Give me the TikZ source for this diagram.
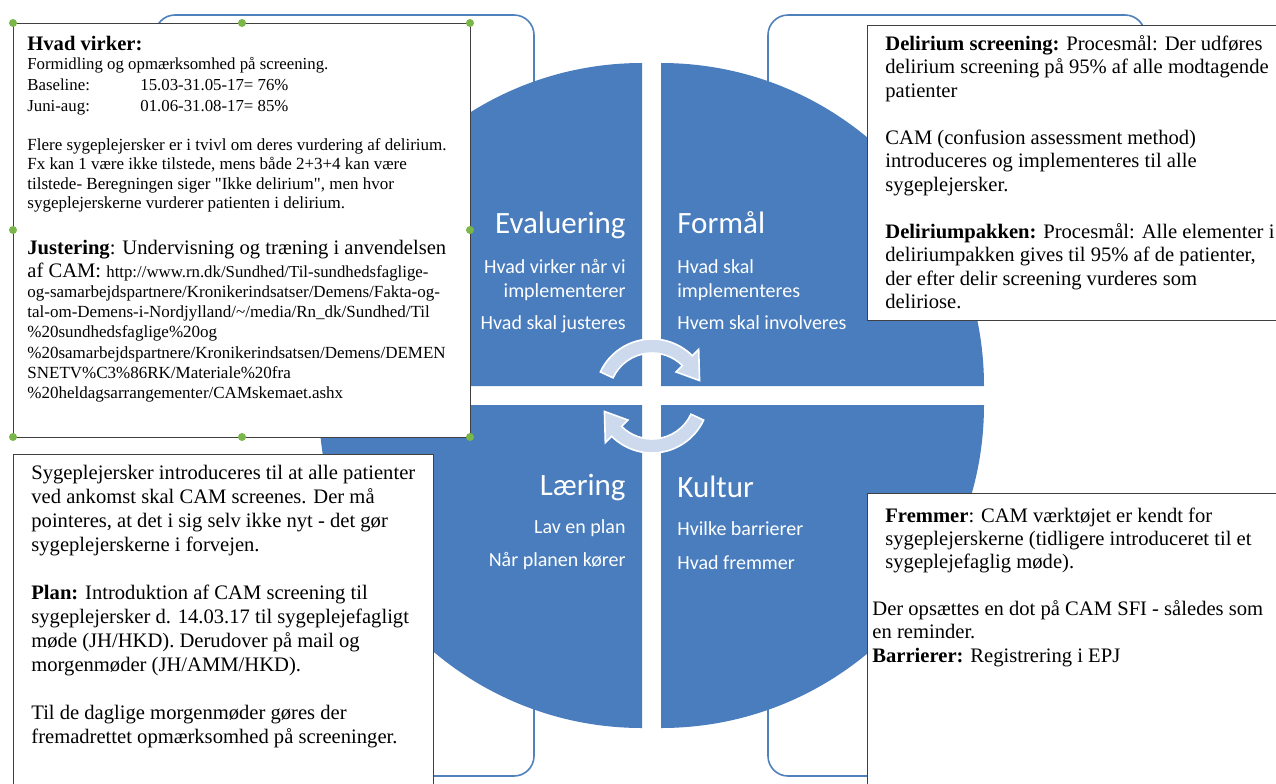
\documentclass[tikz,border=0pt]{standalone}
\usepackage{fontspec}
\setmainfont{Liberation Serif}
\newfontfamily\calfont{Carlito}
\usetikzlibrary{calc}
\definecolor{quad}{RGB}{73,125,189}
\definecolor{outl}{RGB}{79,129,189}
\definecolor{arr}{RGB}{205,218,238}
\definecolor{handle}{RGB}{122,182,72}
\tikzset{
  outer/.style={draw=outl, line width=0.8pt, fill=white, rounded corners=10pt},
  tbox/.style={draw=black!75, line width=0.5pt, fill=white},
  btxt/.style={anchor=north west, inner sep=0pt, align=left, font=\fontsize{10.3}{11.75}\selectfont},
  bline/.style={anchor=base west, inner sep=0pt, font=\fontsize{10.3}{11.75}\selectfont},
  stxt/.style={anchor=north west, inner sep=0pt, align=left},
  ttl/.style={inner sep=0pt, text=white, font=\calfont\fontsize{15.5}{18}\selectfont},
  sub/.style={inner sep=0pt, text=white, font=\calfont\fontsize{10}{12}\selectfont},
  cyc/.style={fill=arr, draw=white, line width=0.8pt},
  hdl/.style={circle, fill=handle, inner sep=0pt, minimum size=4pt},
}
\begin{document}
\begin{tikzpicture}[x=0.5pt,y=-0.5pt]
\clip (0,0) rectangle (1276,783);
\fill[white] (0,0) rectangle (1276,783);
% outer rounded frames
\draw[outer] (155,15) rectangle (534,300);
\draw[outer] (768,15) rectangle (1145,300);
\draw[outer] (155,500) rectangle (534,776);
\draw[outer] (768,500) rectangle (1145,776);
% quadrants
\fill[quad] (642,386) -- (319,386) arc[start angle=180,end angle=270,radius=323] -- cycle;
\fill[quad] (661,386) -- (661,63) arc[start angle=270,end angle=360,radius=323] -- cycle;
\fill[quad] (661,405) -- (984,405) arc[start angle=0,end angle=90,radius=323] -- cycle;
\fill[quad] (642,405) -- (642,728) arc[start angle=90,end angle=180,radius=323] -- cycle;
% cycle arrows
\coordinate (C) at (652,396);
\filldraw[cyc] ($(C)+(205:43)$) arc[start angle=205,end angle=315,radius=43] -- ($(C)+(315:34)$) -- ($(C)+(342:50)$) -- ($(C)+(315:66)$) -- ($(C)+(315:57)$) arc[start angle=315,end angle=205,radius=57] -- cycle;
\filldraw[cyc] ($(C)+(25:43)$) arc[start angle=25,end angle=135,radius=43] -- ($(C)+(135:34)$) -- ($(C)+(162:50)$) -- ($(C)+(135:66)$) -- ($(C)+(135:57)$) arc[start angle=135,end angle=25,radius=57] -- cycle;
% quadrant labels
\node[ttl, anchor=base east] (ev) at (626,233) {Evaluering};
\node[sub, anchor=base east] (ev1) at (626,273) {Hvad virker når vi};
\node[sub, anchor=base east] (ev2) at (626,297) {implementerer};
\node[sub, anchor=base east] (ev3) at (626,329) {Hvad skal justeres};
\node[ttl, anchor=base west] (fo) at (677,233) {Formål};
\node[sub, anchor=base west] (fo1) at (677,273) {Hvad skal};
\node[sub, anchor=base west] (fo2) at (677,297) {implementeres};
\node[sub, anchor=base west] (fo3) at (677,329) {Hvem skal involveres};
\node[ttl, anchor=base east] (la) at (626,495) {Læring};
\node[sub, anchor=base east] (la1) at (626,533) {Lav en plan};
\node[sub, anchor=base east] (la2) at (626,566) {Når planen kører};
\node[ttl, anchor=base west] (ku) at (677,497) {Kultur};
\node[sub, anchor=base west] (ku1) at (677,535) {Hvilke barrierer};
\node[sub, anchor=base west] (ku2) at (677,569) {Hvad fremmer};
% text boxes
\draw[tbox] (13,23) rectangle (470,437);
\draw[tbox] (867,25) rectangle (1290,320);
\draw[tbox] (13,454) rectangle (433,800);
\draw[tbox] (867,493) rectangle (1290,800);
% top-left box text
\node[bline] (tl1) at (27,50) {\textbf{Hvad virker:}};
\node[stxt, font=\fontsize{8.4}{10.5}\selectfont] (tl2) at (27,54.3) {\strut Formidling og opmærksomhed på screening.\\
\makebox[56.5pt][l]{Baseline:}15.03-31.05-17= 76\%\\
\makebox[56.5pt][l]{Juni-aug:}01.06-31.08-17= 85\%};
\node[stxt, font=\fontsize{8.5}{9.7}\selectfont] (tl3) at (27,136.4) {\strut Flere sygeplejersker er i tvivl om deres vurdering af delirium.\\
Fx kan 1 være ikke tilstede, mens både 2+3+4 kan være\\
tilstede- Beregningen siger \textquotedbl Ikke delirium\textquotedbl, men hvor\\
sygeplejerskerne vurderer patienten i delirium.};
\node[bline] (tl4) at (27,254) {\textbf{Justering}: Undervisning og træning i anvendelsen};
\node[bline] (tl5) at (27,277) {af CAM: {\fontsize{8.4}{10}\selectfont http://www.rn.dk/Sundhed/Til-sundhedsfaglige-}};
\node[stxt, font=\fontsize{8.5}{10.1}\selectfont] (tl6) at (27,282.9) {\strut og-samarbejdspartnere/Kronikerindsatser/Demens/Fakta-og-\\
tal-om-Demens-i-Nordjylland/\textasciitilde/media/Rn\_dk/Sundhed/Til\\
\%20sundhedsfaglige\%20og\\
\%20samarbejdspartnere/Kronikerindsatsen/Demens/DEMEN\\
SNETV\%C3\%86RK/Materiale\%20fra\\
\%20heldagsarrangementer/CAMskemaet.ashx};
% top-right box text
\node[btxt] (tr) at (885,33.5) {\strut\textbf{Delirium screening:} Procesmål: Der udføres\\
delirium screening på 95\% af alle modtagende\\
patienter\\[11.75pt]
CAM (confusion assessment method)\\
introduceres og implementeres til alle\\
sygeplejersker.\\[11.75pt]
\textbf{Deliriumpakken:} Procesmål: Alle elementer i\\
deliriumpakken gives til 95\% af de patienter,\\
der efter delir screening vurderes som\\
deliriose.};
% bottom-left box text
\node[btxt, font=\fontsize{10.3}{12}\selectfont] (bl) at (31,462.2) {\strut Sygeplejersker introduceres til at alle patienter\\
ved ankomst skal CAM screenes. Der må\\
pointeres, at det i sig selv ikke nyt - det gør\\
sygeplejerskerne i forvejen.\\[12pt]
\textbf{Plan:} Introduktion af CAM screening til\\
sygeplejersker d. 14.03.17 til sygeplejefagligt\\
møde (JH/HKD). Derudover på mail og\\
morgenmøder (JH/AMM/HKD).\\[12pt]
Til de daglige morgenmøder gøres der\\
fremadrettet opmærksomhed på screeninger.};
% bottom-right box text
\node[btxt, font=\fontsize{10.3}{11.5}\selectfont] (br1) at (885,505.9) {\strut\textbf{Fremmer}: CAM værktøjet er kendt for\\
sygeplejerskerne (tidligere introduceret til et\\
sygeplejefaglig møde).};
\node[btxt] (br2) at (872,598.5) {\strut Der opsættes en dot på CAM SFI - således som\\
en reminder.\\
\textbf{Barrierer:} Registrering i EPJ};
% selection handles
\node[hdl] (h1) at (13,23) {};
\node[hdl] (h2) at (242,23) {};
\node[hdl] (h3) at (470,23) {};
\node[hdl] (h4) at (13,230) {};
\node[hdl] (h5) at (470,230) {};
\node[hdl] (h6) at (13,437) {};
\node[hdl] (h7) at (242,437) {};
\node[hdl] (h8) at (470,437) {};
\end{tikzpicture}
\end{document}
